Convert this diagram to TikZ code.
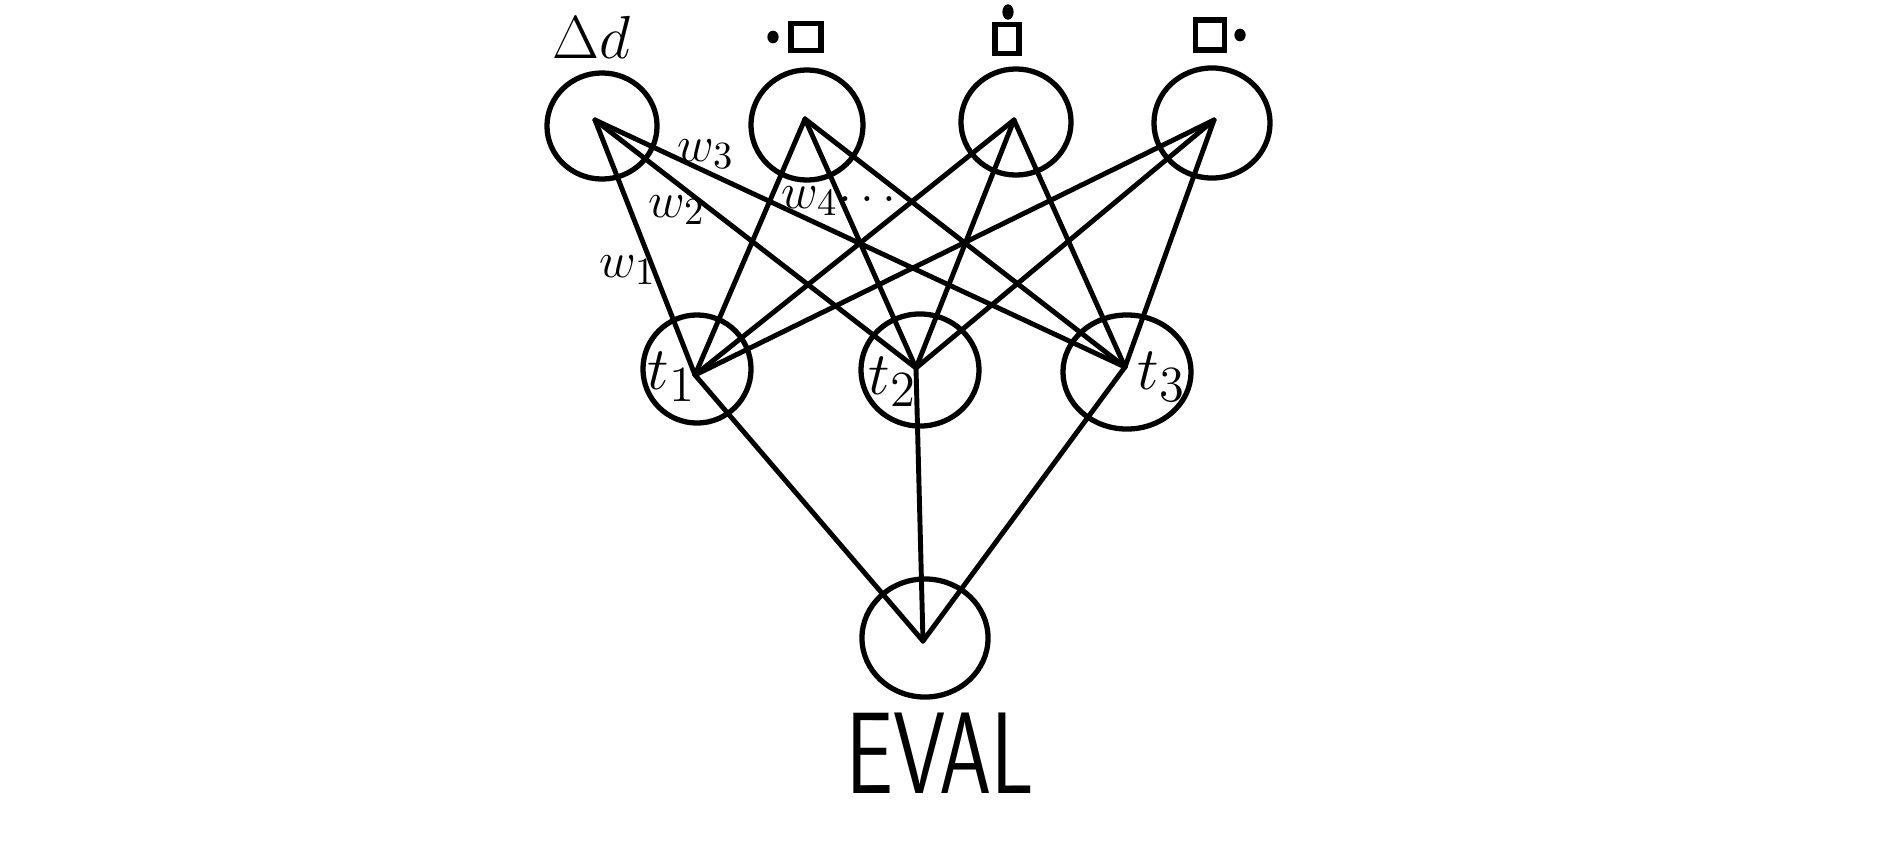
\documentclass[tikz,border=0pt]{standalone}
\usepackage{amsmath}
\usepackage{graphicx}
\usepackage{tikz}
\usetikzlibrary{shapes.geometric}

\begin{document}
\begin{tikzpicture}[x=0.01cm, y=-0.01cm,
      ring/.style ={draw, ellipse, line width=1.5pt, inner sep=0pt},
      wire/.style ={line width=1.4pt, line cap=round},
      glyph/.style={draw, rectangle, line width=1.6pt, inner sep=0pt},
      blob/.style ={ellipse, fill, inner sep=0pt, minimum width=3.2pt, minimum height=3.6pt},
      lab/.style  ={inner sep=0pt, font=\fontsize{15}{15}\selectfont},
      tlab/.style ={inner sep=0pt, font=\fontsize{19}{19}\selectfont}]

    \useasboundingbox (0,0) rectangle (1878,851);

    % input layer
    \node[ring, minimum width=1.10cm, minimum height=1.06cm] (in1) at (602,126) {};
    \node[ring, minimum width=1.12cm, minimum height=1.10cm] (in2) at (807,125) {};
    \node[ring, minimum width=1.10cm, minimum height=1.06cm] (in3) at (1016,122) {};
    \node[ring, minimum width=1.16cm, minimum height=1.10cm] (in4) at (1212,123) {};
    % hidden layer
    \node[ring, minimum width=1.08cm, minimum height=1.08cm] (t1) at (697,369) {};
    \node[ring, minimum width=1.18cm, minimum height=1.12cm] (t2) at (920,370) {};
    \node[ring, minimum width=1.28cm, minimum height=1.14cm] (t3) at (1127,372) {};
    % output
    \node[ring, minimum width=1.26cm, minimum height=1.18cm] (out) at (925,638) {};

    \coordinate (p1) at (595,120);
    \coordinate (p2) at (805,119);
    \coordinate (p3) at (1014,120);
    \coordinate (p4) at (1214,120);
    \coordinate (q1) at (695,375);
    \coordinate (q2) at (916,368);
    \coordinate (q3) at (1125,367);
    \coordinate (r)  at (923,641);

    % input symbols
    \node[inner sep=0pt, font=\fontsize{18}{18}\selectfont] (sym1) at (591,37) {$\Delta d$};
    \node[blob] (dot2) at (773,37) {};
    \node[glyph, minimum width=0.30cm, minimum height=0.27cm] (sq2) at (806,37) {};
    \node[blob, minimum height=4.4pt] (dot3) at (1008,12) {};
    \node[glyph, minimum width=0.24cm, minimum height=0.29cm] (sq3) at (1007,39) {};
    \node[glyph, minimum width=0.29cm, minimum height=0.30cm] (sq4) at (1210,35) {};
    \node[blob] (dot4) at (1240,35) {};

    % weights
    \draw[wire] (p1) -- (q1);
    \draw[wire] (p1) -- (q2);
    \draw[wire] (p1) -- (q3);
    \draw[wire] (p2) -- (q1);
    \draw[wire] (p2) -- (q2);
    \draw[wire] (p2) -- (q3);
    \draw[wire] (p3) -- (q1);
    \draw[wire] (p3) -- (q2);
    \draw[wire] (p3) -- (q3);
    \draw[wire] (p4) -- (q1);
    \draw[wire] (p4) -- (q2);
    \draw[wire] (p4) -- (q3);
    \draw[wire] (q1) -- (r);
    \draw[wire] (q2) -- (r);
    \draw[wire] (q3) -- (r);

    \node[lab] (w1) at (628,270) {$w_1$};
    \node[lab] (w2) at (677,210) {$w_2$};
    \node[lab] (w3) at (706,154) {$w_3$};
    \node[lab] (w4) at (810,201) {$w_4$};
    \node[lab] (wdots) at (872,199) {$\dots$};

    \node[tlab] (tl1) at (672,377) {$t_1$};
    \node[tlab] (tl2) at (893,382) {$t_2$};
    \node[tlab] (tl3) at (1162,377) {$t_3$};

    \node[inner sep=0pt, font=\sffamily\fontsize{33}{33}\selectfont] (eval) at (940,753)
      {\scalebox{0.72}[1]{EVAL}};
\end{tikzpicture}
\end{document}
